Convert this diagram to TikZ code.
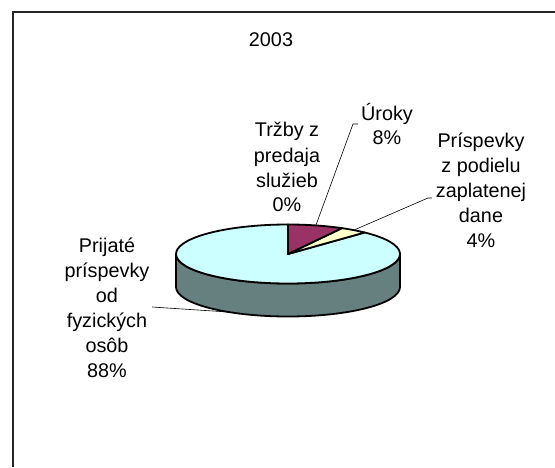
\documentclass[tikz,border=0pt]{standalone}
\usepackage{fontspec}
\setmainfont{Liberation Sans}
\usetikzlibrary{calc}
\definecolor{plum}{HTML}{993366}
\definecolor{ivory}{HTML}{FFFFCC}
\definecolor{paleturq}{HTML}{CCFFFF}
\definecolor{sidegray}{HTML}{668080}
\tikzset{
  pieline/.style={draw=black, line width=1.8pt, line join=round},
  leader/.style={draw=black, line width=0.6pt},
  lbl/.style={font=\fontsize{19.8}{25}\selectfont, align=center, inner sep=0pt, anchor=base},
  framestyle/.style={draw=black!85, line width=1.5pt}
}
\begin{document}
\begin{tikzpicture}[x=1pt,y=1pt]
\useasboundingbox (0,0) rectangle (555,467);
\fill[white] (0,0) rectangle (555,467);
% frame
\coordinate (fb) at (13,0);
\coordinate (ftl) at (13,455);
\coordinate (fr) at (556,455);
\draw[framestyle] (fb) -- (ftl) -- (fr);
% title
\node[lbl] (title) at (271,420.5) {2003};
% pie side
\coordinate (c) at (288,213);
\filldraw[pieline, fill=sidegray] (176,213) arc[start angle=180, end angle=360, x radius=112, y radius=29.5]
  -- (400,180) arc[start angle=0, end angle=-180, x radius=112, y radius=29.5] -- cycle;
% slices
\filldraw[pieline, fill=paleturq] (c) -- ($(c)+(46.8:112 and 29.5)$) arc[start angle=46.8, end angle=-270, x radius=112, y radius=29.5] -- cycle;
\filldraw[pieline, fill=ivory] (c) -- ($(c)+(61.2:112 and 29.5)$) arc[start angle=61.2, end angle=46.8, x radius=112, y radius=29.5] -- cycle;
\filldraw[pieline, fill=plum] (c) -- ($(c)+(90:112 and 29.5)$) arc[start angle=90, end angle=61.2, x radius=112, y radius=29.5] -- cycle;
% anchor points on slices
\coordinate (pu) at ($(c)+(75.6:112 and 29.5)$);
\coordinate (py) at ($(c)+(54:112 and 29.5)$);
\coordinate (pc) at (228,155);
% labels (base = baseline of last line)
\node[lbl] (trzby) at (287,255) {Tržby z\\predaja\\služieb\\0\%};
\node[lbl] (uroky) at (387,322) {Úroky\\8\%};
\node[lbl] (prisp) at (481,220) {Príspevky\\z podielu\\zaplatenej\\dane\\4\%};
\node[lbl] (prijate) at (107,90) {Prijaté\\príspevky\\od\\fyzických\\osôb\\88\%};
% leaders
\coordinate (ua) at (353,343);
\coordinate (ub) at (358,343);
\coordinate (pa) at (428,269);
\coordinate (pb) at (432,269);
\coordinate (qa) at (152,160);
\draw[leader] (pu) -- (ua) -- (ub);
\draw[leader] (py) -- (pa) -- (pb);
\draw[leader] (pc) -- (qa);
\end{tikzpicture}
\end{document}
